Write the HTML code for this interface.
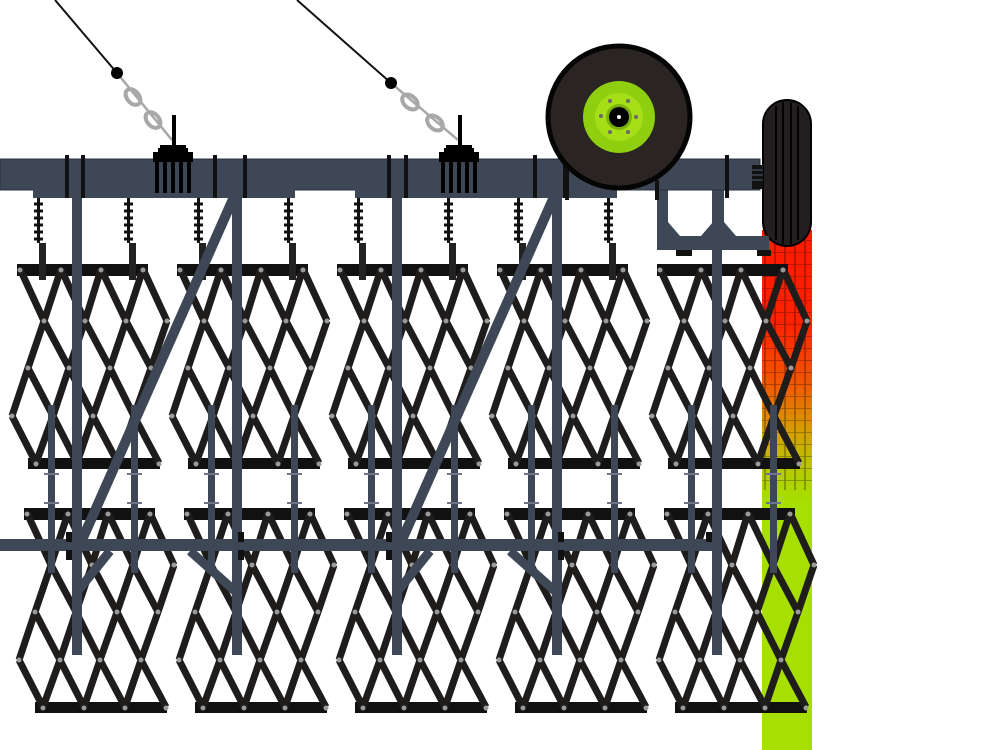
<!DOCTYPE html>
<html><head><meta charset="utf-8"><style>html,body{margin:0;padding:0;background:#fff}svg{display:block}</style></head>
<body>
<svg width="1000" height="750" viewBox="0 0 1000 750" xmlns="http://www.w3.org/2000/svg">
<defs>
<linearGradient id="strip" x1="0" y1="0" x2="0" y2="1">
<stop offset="0" stop-color="#ff1a00"/>
<stop offset="0.18" stop-color="#ff2200"/>
<stop offset="0.3" stop-color="#f05a00"/>
<stop offset="0.38" stop-color="#d89a00"/>
<stop offset="0.46" stop-color="#b8c800"/>
<stop offset="0.52" stop-color="#a6df00"/>
<stop offset="1" stop-color="#a6df00"/>
</linearGradient>
<pattern id="grid" width="10" height="12" patternUnits="userSpaceOnUse">
<path d="M0 0H10M5 0V12" stroke="#000" stroke-opacity="0.35" stroke-width="1.5" fill="none"/>
</pattern>
<g id="sec">
<rect x="0" y="-5" width="131" height="12" fill="#111"/>
<rect x="11" y="189" width="132" height="11" fill="#111"/>
<path fill="none" stroke="#1f1c1c" stroke-width="7" d="M3 0L27 52 M44 0L68 52 M84 0L109 52 M126 0L150 52 M44 0L27 52 M84 0L68 52 M126 0L109 52 M27 52L11 99 M68 52L52 99 M109 52L93 99 M150 52L134 99 M27 52L52 99 M68 52L93 99 M109 52L134 99 M11 99L-5 147 M52 99L36 147 M93 99L76 147 M134 99L117 147 M11 99L36 147 M52 99L76 147 M93 99L117 147 M-5 147L19 194 M36 147L60 194 M76 147L101 194 M117 147L142 194 M36 147L19 194 M76 147L60 194 M117 147L101 194"/>
<g fill="#9a9a9a">
<circle cx="3" cy="1" r="2.5"/><circle cx="44" cy="1" r="2.5"/><circle cx="84" cy="1" r="2.5"/><circle cx="126" cy="1" r="2.5"/>
<circle cx="27" cy="52" r="2.5"/><circle cx="68" cy="52" r="2.5"/><circle cx="109" cy="52" r="2.5"/><circle cx="150" cy="52" r="2.5"/>
<circle cx="11" cy="99" r="2.5"/><circle cx="52" cy="99" r="2.5"/><circle cx="93" cy="99" r="2.5"/><circle cx="134" cy="99" r="2.5"/>
<circle cx="-5" cy="147" r="2.5"/><circle cx="36" cy="147" r="2.5"/><circle cx="76" cy="147" r="2.5"/><circle cx="117" cy="147" r="2.5"/>
<circle cx="19" cy="195" r="2.5"/><circle cx="60" cy="195" r="2.5"/><circle cx="101" cy="195" r="2.5"/><circle cx="142" cy="195" r="2.5"/>
</g>
</g>
<g id="spring">
<rect x="-1" y="0" width="3" height="45" fill="#111"/>
<path d="M-4 6H5M-4 13H5M-4 20H5M-4 27H5M-4 34H5M-4 41H5" stroke="#111" stroke-width="3"/>
<rect x="1" y="45" width="7" height="37" fill="#222"/>
</g>
<g id="thin">
<rect x="0" y="0" width="7" height="168" fill="#3d4756"/>
<path d="M-4 69H11M-4 98H11" stroke="#6d7686" stroke-width="2"/>
</g>
</defs>

<!-- strip & tire -->
<rect x="762" y="230" width="50" height="520" fill="url(#strip)"/>
<rect x="762" y="230" width="50" height="260" fill="url(#grid)"/>
<rect x="763" y="100" width="48" height="146" rx="24" fill="#231f20" stroke="#000" stroke-width="2"/>
<path d="M776 106V240M783 102V244M791 102V244M798 106V240" stroke="#000" stroke-width="2"/>

<!-- upper sections -->
<use href="#sec" x="17" y="269"/><use href="#sec" x="177" y="269"/><use href="#sec" x="337" y="269"/><use href="#sec" x="497" y="269"/><use href="#sec" x="657" y="269"/>
<!-- lower sections -->
<use href="#sec" x="24" y="513"/><use href="#sec" x="184" y="513"/><use href="#sec" x="344" y="513"/><use href="#sec" x="504" y="513"/><use href="#sec" x="664" y="513"/>

<!-- springs -->
<use href="#spring" x="38" y="198"/><use href="#spring" x="128" y="198"/>
<use href="#spring" x="198" y="198"/><use href="#spring" x="288" y="198"/>
<use href="#spring" x="358" y="198"/><use href="#spring" x="448" y="198"/>
<use href="#spring" x="518" y="198"/><use href="#spring" x="608" y="198"/>

<!-- thin posts -->
<use href="#thin" x="48" y="405"/><use href="#thin" x="131" y="405"/>
<use href="#thin" x="208" y="405"/><use href="#thin" x="291" y="405"/>
<use href="#thin" x="368" y="405"/><use href="#thin" x="451" y="405"/>
<use href="#thin" x="528" y="405"/><use href="#thin" x="611" y="405"/>
<use href="#thin" x="688" y="405"/><use href="#thin" x="770" y="405"/>

<!-- main posts -->
<g fill="#3d4756">
<rect x="72" y="190" width="10" height="465"/><rect x="232" y="190" width="10" height="465"/>
<rect x="392" y="190" width="10" height="465"/><rect x="552" y="190" width="10" height="465"/>
<rect x="712" y="190" width="10" height="465"/>
</g>
<!-- braces -->
<g stroke="#3d4756" stroke-width="10" fill="none">
<path d="M237 190L82 540M557 190L402 540"/>
<path d="M110 551L77 592M190 551L236 592M430 551L397 592M510 551L556 592" stroke-width="9"/>
</g>
<!-- lower beam -->
<rect x="0" y="539" width="722" height="12" fill="#3d4756"/>
<g fill="#111">
<rect x="66" y="532" width="6" height="10"/><rect x="66" y="550" width="6" height="10"/>
<rect x="238" y="532" width="6" height="10"/><rect x="238" y="550" width="6" height="10"/>
<rect x="386" y="532" width="6" height="10"/><rect x="386" y="550" width="6" height="10"/>
<rect x="558" y="532" width="6" height="10"/><rect x="558" y="550" width="6" height="10"/>
<rect x="706" y="532" width="6" height="10"/>
</g>

<!-- right bracket -->
<g fill="#3d4756">
<rect x="657" y="190" width="11" height="60"/><rect x="713" y="190" width="11" height="60"/>
<rect x="657" y="236" width="112" height="14"/>
<path d="M668 222L680 236H668Z M713 222L701 236H713Z M724 222L736 236H724Z"/>
</g>
<rect x="676" y="250" width="16" height="6" fill="#111"/><rect x="757" y="250" width="14" height="6" fill="#111"/>

<!-- main beam -->
<rect x="0" y="159" width="760" height="31" fill="#3d4756" stroke="#2a3240" stroke-width="1"/>
<rect x="33" y="188" width="262" height="10" fill="#3d4756"/>
<rect x="355" y="188" width="262" height="10" fill="#3d4756"/>
<rect x="752" y="165" width="11" height="24" fill="#111"/>
<path d="M752 170H763M752 175H763M752 180H763" stroke="#3d4756" stroke-width="1.5"/>
<g fill="#111">
<rect x="65" y="155" width="4" height="43"/><rect x="81" y="155" width="4" height="43"/>
<rect x="213" y="155" width="4" height="43"/><rect x="243" y="155" width="4" height="43"/>
<rect x="387" y="155" width="4" height="43"/><rect x="404" y="155" width="4" height="43"/>
<rect x="533" y="155" width="4" height="43"/><rect x="563" y="155" width="4" height="43"/>
<rect x="565" y="165" width="4" height="35"/><rect x="655" y="180" width="4" height="20"/>
<rect x="725" y="155" width="4" height="43"/>
</g>

<!-- chains -->
<line x1="55" y1="0" x2="117" y2="73" stroke="#111" stroke-width="2"/>
<line x1="297" y1="0" x2="391" y2="83" stroke="#111" stroke-width="2"/>
<g fill="none" stroke="#a8a8a8" stroke-width="4">
<line x1="117" y1="73" x2="172" y2="140" stroke-width="2.5"/>
<ellipse cx="133" cy="97" rx="9" ry="6" transform="rotate(50 133 97)"/>
<ellipse cx="153" cy="120" rx="9" ry="6" transform="rotate(50 153 120)"/>
<line x1="391" y1="83" x2="458" y2="140" stroke-width="2.5"/>
<ellipse cx="410" cy="102" rx="9" ry="6" transform="rotate(42 410 102)"/>
<ellipse cx="435" cy="123" rx="9" ry="6" transform="rotate(42 435 123)"/>
</g>
<circle cx="117" cy="73" r="6" fill="#000"/><circle cx="391" cy="83" r="6" fill="#000"/>
<g fill="#000">
<rect x="172" y="115" width="4" height="32"/>
<path d="M158 148H160V145H186V148H188V152H193V162H153V152H158Z"/>
<rect x="155" y="160" width="4" height="33"/><rect x="163" y="160" width="4" height="33"/><rect x="171" y="160" width="4" height="33"/><rect x="179" y="160" width="4" height="33"/><rect x="187" y="160" width="4" height="33"/>
<rect x="458" y="115" width="4" height="32"/>
<path d="M444 148H446V145H472V148H474V152H479V162H439V152H444Z"/>
<rect x="441" y="160" width="4" height="33"/><rect x="449" y="160" width="4" height="33"/><rect x="457" y="160" width="4" height="33"/><rect x="465" y="160" width="4" height="33"/><rect x="473" y="160" width="4" height="33"/>
</g>

<!-- wheel -->
<circle cx="619" cy="117" r="71" fill="#2a2422" stroke="#050505" stroke-width="5"/>
<circle cx="619" cy="117" r="36" fill="#8fcf10"/>
<circle cx="619" cy="117" r="24" fill="#a6df16"/>
<g fill="#6a6a6a">
<circle cx="610" cy="101" r="2"/><circle cx="628" cy="101" r="2"/><circle cx="636" cy="117" r="2"/><circle cx="628" cy="132" r="2"/><circle cx="610" cy="132" r="2"/><circle cx="601" cy="116" r="2"/>
</g>
<circle cx="619" cy="117" r="13" fill="#7ab010"/>
<circle cx="619" cy="117" r="10" fill="#000"/>
<circle cx="619" cy="117" r="2" fill="#fff"/>
</svg>
</body></html>
